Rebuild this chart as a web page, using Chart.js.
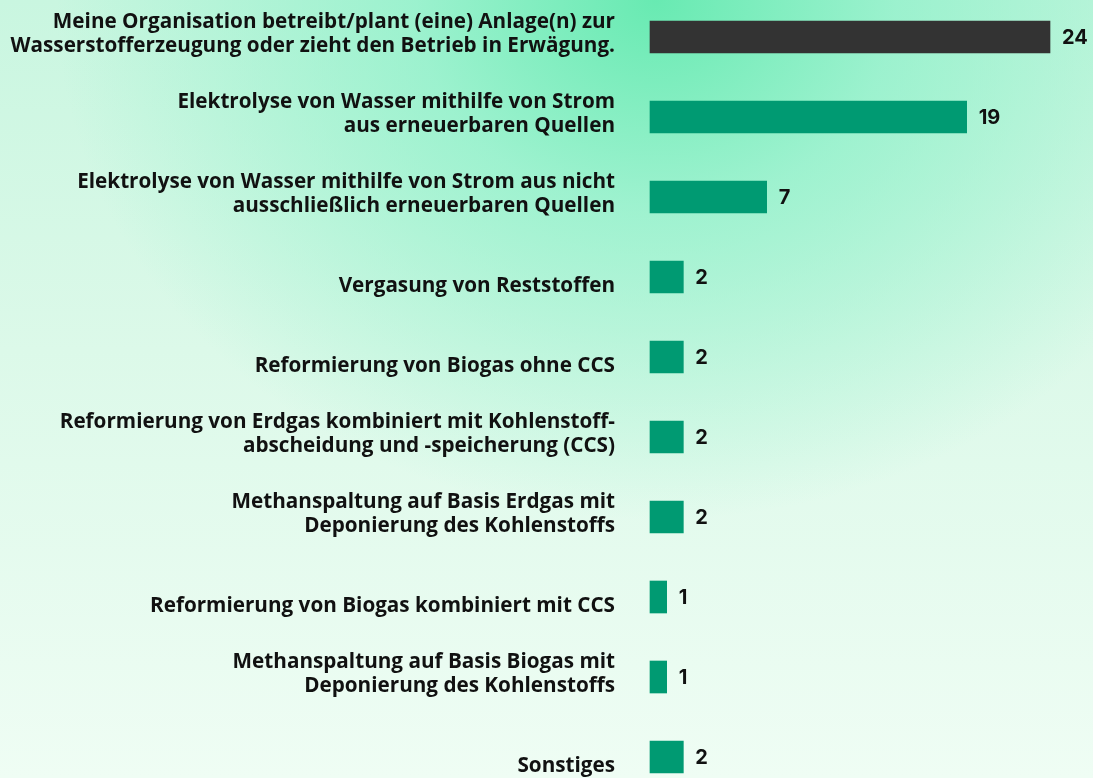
<!DOCTYPE html>
<html><head><meta charset="utf-8">
<script src="https://cdn.jsdelivr.net/npm/chart.js@4/dist/chart.umd.min.js"></script>
<style>
html,body{margin:0;padding:0;width:1093px;height:778px;overflow:hidden;}
body{background:
 radial-gradient(ellipse 600px 520px at 60% 0%, rgba(104,234,178,1) 0%, rgba(140,240,200,0.75) 40%, rgba(190,246,222,0) 100%),
 linear-gradient(180deg, #c9f6e0 0%, #dcf9e9 45%, #effdf4 100%);}
#wrap{position:absolute;left:0;top:0;width:1093px;height:778px;}
</style></head>
<body><div id="wrap"><canvas id="c" width="1093" height="778"></canvas></div>
<script>
const categories = [
  ["Meine Organisation betreibt/plant (eine) Anlage(n) zur","Wasserstofferzeugung oder zieht den Betrieb in Erwägung."],
  ["Elektrolyse von Wasser mithilfe von Strom","aus erneuerbaren Quellen"],
  ["Elektrolyse von Wasser mithilfe von Strom aus nicht","ausschließlich erneuerbaren Quellen"],
  "Vergasung von Reststoffen",
  "Reformierung von Biogas ohne CCS",
  ["Reformierung von Erdgas kombiniert mit Kohlenstoff-","abscheidung und -speicherung (CCS)"],
  ["Methanspaltung auf Basis Erdgas mit","Deponierung des Kohlenstoffs"],
  "Reformierung von Biogas kombiniert mit CCS",
  ["Methanspaltung auf Basis Biogas mit","Deponierung des Kohlenstoffs"],
  "Sonstiges"
];
const values = [24, 19, 7, 2, 2, 2, 2, 1, 1, 2];
const barColors = ["#333333","#009a72","#009a72","#009a72","#009a72","#009a72","#009a72","#009a72","#009a72","#009a72"];

// pick label font size so the widest label spans the same width as in the reference
const mctx = document.createElement('canvas').getContext('2d');
mctx.font = "700 100px 'Open Sans'";
const widest = Math.max(...categories.flat().map(t => mctx.measureText(t).width));
const labelSize = Math.round(100 * 606 / widest * 10) / 10;

const valueLabels = {
  id:'valueLabels',
  afterDatasetsDraw(chart){
    const ctx = chart.ctx;
    const meta = chart.getDatasetMeta(0);
    ctx.save();
    ctx.font = "700 20px Inter";
    ctx.fillStyle = "#111111";
    ctx.textAlign = "left";
    ctx.textBaseline = "middle";
    meta.data.forEach((bar,i)=>{
      ctx.fillText(String(values[i]), bar.x + 12, bar.y + 1);
    });
    ctx.restore();
  }
};

new Chart(document.getElementById('c'), {
  type:'bar',
  data:{labels:categories, datasets:[{data:values, backgroundColor:barColors, barThickness:32, clip:false, borderWidth:0}]},
  options:{
    indexAxis:'y',
    responsive:false,
    animation:false,
    layout:{padding:{left:0,right:43,top:37,bottom:21}},
    plugins:{legend:{display:false},tooltip:{enabled:false}},
    scales:{
      x:{display:false,min:0,max:24},
      y:{
        offset:false,
        grid:{display:false,drawTicks:false},
        border:{display:false},
        afterFit(s){ s.width = 650; s.paddingTop = 0; s.paddingBottom = 0; },
        ticks:{
          color:"#111111",padding:35,labelOffset:-3,autoSkip:false,
          font:{family:"Open Sans",size:labelSize,weight:"700",lineHeight:"24px"},
          // last line of every label sits just below the bar centre, as in the reference
          callback:(v,i)=> Array.isArray(categories[i]) ? categories[i] : ["", categories[i]]
        }
      }
    }
  },
  plugins:[valueLabels]
});
</script></body></html>
